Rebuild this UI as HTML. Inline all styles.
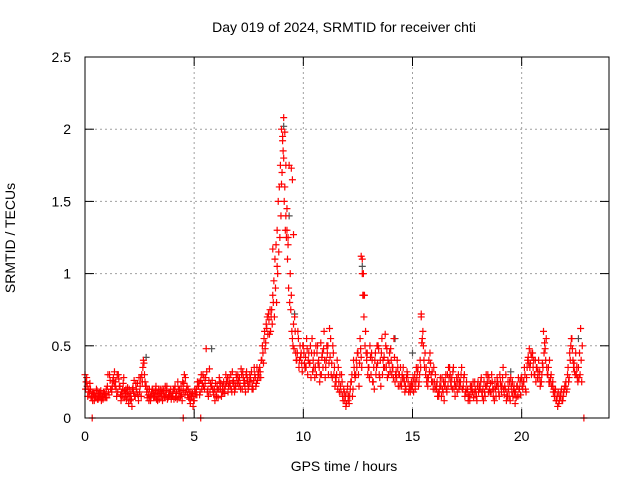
<!DOCTYPE html>
<html><head><meta charset="utf-8"><style>
html,body{margin:0;padding:0;background:#fff}
svg{display:block;font-family:"Liberation Sans",sans-serif}
</style></head><body>
<svg id="chart" width="640" height="480" viewBox="0 0 640 480">
<text x="344" y="32" font-size="14" text-anchor="middle">Day 019 of 2024, SRMTID for receiver chti</text>
<text x="344" y="471" font-size="14" text-anchor="middle">GPS time / hours</text>
<text transform="translate(15,238) rotate(-90)" font-size="14" text-anchor="middle">SRMTID / TECUs</text>
<g id="grid"></g>
<g id="ticks"></g>
<g id="gray"></g>
<g id="red"></g>
<rect x="85" y="57" width="524" height="361" fill="none" stroke="#000" stroke-width="1"/>
</svg>
<script>
const xTicks=[0,5,10,15,20];
const yTicks=[0,0.5,1,1.5,2,2.5];
const yTickLabels=["0","0.5","1","1.5","2","2.5"];
const seriesA=[0.30,0.22,0.18,0.15,0.17,0.14,0.13,0.16,0.15,0.17,
0.14,0.16,0.20,0.28,0.25,0.18,0.22,0.15,0.19,0.13,
0.10,0.17,0.21,0.15,0.24,0.18,0.30,0.38,0.22,0.16,
0.12,0.20,0.15,0.18,0.13,0.17,0.19,0.16,0.14,0.18,
0.15,0.20,0.17,0.14,0.22,0.19,0.28,0.16,0.13,0.15,
0.12,0.20,0.22,0.26,0.30,0.24,0.18,0.34,0.22,0.16,
0.18,0.14,0.20,0.22,0.17,0.25,0.28,0.20,0.26,0.22,
0.30,0.24,0.20,0.26,0.32,0.22,0.25,0.20,0.28,0.26,
0.35,0.40,0.55,0.65,0.72,0.60,0.85,1.10,1.30,1.60,
2.00,1.80,1.40,1.20,1.00,0.55,0.70,0.40,0.35,0.45,
0.50,0.42,0.30,0.38,0.55,0.45,0.30,0.40,0.52,0.35,
0.28,0.45,0.62,0.38,0.30,0.25,0.35,0.22,0.15,0.12,
0.18,0.10,0.25,0.40,0.30,0.45,0.55,1.10,0.85,0.40,
0.35,0.30,0.25,0.45,0.38,0.28,0.55,0.42,0.35,0.30,
0.48,0.35,0.25,0.40,0.30,0.22,0.28,0.20,0.25,0.18,
0.22,0.30,0.28,0.25,0.70,0.50,0.30,0.22,0.45,0.32,
0.25,0.20,0.15,0.22,0.18,0.25,0.30,0.35,0.28,0.20,
0.22,0.30,0.25,0.20,0.15,0.18,0.16,0.22,0.14,0.18,
0.25,0.20,0.15,0.18,0.22,0.28,0.18,0.15,0.20,0.25,
0.30,0.22,0.16,0.12,0.20,0.28,0.15,0.10,0.22,0.20,
0.28,0.25,0.18,0.42,0.38,0.45,0.30,0.35,0.28,0.25,
0.60,0.40,0.30,0.25,0.22,0.15,0.12,0.10,0.18,0.15,
0.22,0.30,0.45,0.55,0.38,0.30,0.35,0.62];
const seriesB=[0.25,0.18,0.20,0.12,0.16,0.19,0.15,0.12,0.18,0.14,
0.30,0.26,0.22,0.32,0.15,0.27,0.12,0.24,0.17,0.21,
0.15,0.08,0.26,0.20,0.12,0.28,0.35,0.25,0.14,0.20,
0.18,0.14,0.22,0.16,0.20,0.12,0.15,0.22,0.18,0.13,
0.20,0.14,0.25,0.18,0.12,0.30,0.20,0.14,0.18,0.08,
0.18,0.25,0.16,0.20,0.28,0.48,0.15,0.24,0.20,0.12,
0.22,0.28,0.15,0.25,0.30,0.18,0.22,0.32,0.18,0.28,
0.22,0.34,0.28,0.18,0.25,0.30,0.20,0.35,0.24,0.32,
0.28,0.45,0.48,0.70,0.58,0.75,0.95,1.20,1.50,1.75,
1.95,1.60,1.30,1.75,0.85,0.65,0.45,0.60,0.50,0.32,
0.38,0.55,0.45,0.28,0.40,0.35,0.50,0.25,0.42,0.60,
0.40,0.30,0.55,0.50,0.22,0.40,0.18,0.30,0.20,0.08,
0.12,0.20,0.15,0.30,0.35,0.22,0.42,1.00,0.60,0.30,
0.50,0.40,0.20,0.35,0.48,0.22,0.40,0.58,0.28,0.45,
0.30,0.55,0.32,0.22,0.35,0.28,0.18,0.32,0.20,0.25,
0.18,0.25,0.35,0.40,0.55,0.35,0.25,0.40,0.30,0.20,
0.30,0.15,0.22,0.28,0.12,0.20,0.35,0.25,0.32,0.15,
0.18,0.25,0.35,0.28,0.20,0.12,0.22,0.18,0.25,0.12,
0.20,0.28,0.12,0.22,0.30,0.18,0.25,0.12,0.22,0.18,
0.22,0.35,0.20,0.15,0.25,0.18,0.22,0.14,0.28,0.16,
0.20,0.30,0.35,0.48,0.30,0.40,0.25,0.32,0.22,0.38,
0.52,0.35,0.25,0.30,0.18,0.20,0.08,0.15,0.12,0.20,
0.18,0.25,0.50,0.40,0.30,0.28,0.45,0.25];
const seriesC=[0.20,0.15,0.24,0.18,0.12,0.20,0.17,0.19,0.13,0.16,
0.22,0.30,0.18,0.25,0.20,0.30,0.16,0.20,0.14,0.18,
0.20,0.13,0.18,0.24,0.16,0.22,0.25,0.30,0.18,0.12,
0.15,0.17,0.19,0.12,0.17,0.20,0.14,0.19,0.15,0.20,
0.17,0.22,0.13,0.20,0.16,0.24,0.18,0.20,0.10,0.17,
0.20,0.16,0.25,0.30,0.22,0.28,0.20,0.18,0.26,0.20,
0.15,0.20,0.24,0.18,0.22,0.28,0.24,0.18,0.22,0.30,
0.26,0.20,0.32,0.22,0.28,0.25,0.32,0.26,0.22,0.30,
0.32,0.50,0.60,0.62,0.68,0.70,0.80,0.90,1.00,1.25,
1.70,1.50,1.25,0.90,0.75,0.50,0.60,0.45,0.40,0.38,
0.45,0.35,0.40,0.50,0.32,0.28,0.45,0.35,0.30,0.48,
0.35,0.50,0.42,0.28,0.35,0.30,0.25,0.18,0.12,0.15,
0.22,0.15,0.30,0.35,0.40,0.30,0.48,0.85,0.50,0.45,
0.28,0.45,0.35,0.30,0.50,0.40,0.30,0.35,0.48,0.38,
0.40,0.28,0.30,0.35,0.22,0.30,0.25,0.28,0.18,0.22,
0.28,0.20,0.32,0.30,0.52,0.40,0.35,0.28,0.38,0.25,
0.20,0.25,0.18,0.15,0.25,0.30,0.22,0.30,0.20,0.25,
0.28,0.20,0.30,0.22,0.18,0.20,0.12,0.20,0.18,0.15,
0.18,0.25,0.20,0.15,0.25,0.20,0.30,0.20,0.15,0.22,
0.25,0.28,0.22,0.18,0.15,0.22,0.20,0.18,0.15,0.25,
0.22,0.35,0.28,0.38,0.45,0.35,0.40,0.28,0.32,0.30,
0.45,0.55,0.35,0.28,0.25,0.18,0.15,0.12,0.20,0.18,
0.25,0.35,0.40,0.48,0.32,0.35,0.28,0.40];
const seriesD=[0.28,0.20,0.14,0.17,0.15,0.13,0.18,0.14,0.16,0.20,
0.18,0.20,0.26,0.22,0.30,0.22,0.18,0.28,0.20,0.16,
0.12,0.20,0.15,0.18,0.28,0.15,0.40,0.22,0.20,0.15,
0.20,0.16,0.13,0.20,0.15,0.18,0.22,0.13,0.16,0.15,
0.13,0.18,0.20,0.15,0.25,0.16,0.22,0.18,0.15,0.12,
0.16,0.22,0.18,0.24,0.20,0.32,0.26,0.22,0.18,0.24,
0.20,0.25,0.18,0.20,0.25,0.22,0.30,0.25,0.20,0.24,
0.28,0.30,0.24,0.30,0.20,0.28,0.22,0.30,0.35,0.28,
0.40,0.38,0.52,0.58,0.75,0.65,0.70,0.80,1.15,1.40,
1.85,1.30,1.10,0.80,0.60,0.48,0.40,0.55,0.42,0.50,
0.35,0.48,0.38,0.45,0.35,0.50,0.38,0.30,0.45,0.40,
0.50,0.38,0.30,0.45,0.28,0.20,0.30,0.25,0.18,0.10,
0.15,0.25,0.20,0.28,0.45,0.38,0.35,0.70,0.45,0.35,
0.42,0.25,0.40,0.50,0.30,0.45,0.35,0.50,0.40,0.32,
0.35,0.42,0.28,0.30,0.25,0.35,0.22,0.30,0.22,0.20,
0.25,0.35,0.22,0.35,0.60,0.45,0.28,0.32,0.25,0.35,
0.22,0.18,0.28,0.20,0.22,0.18,0.28,0.22,0.35,0.22,
0.25,0.22,0.20,0.30,0.25,0.15,0.18,0.25,0.20,0.22,
0.22,0.18,0.25,0.30,0.18,0.24,0.20,0.25,0.28,0.15,
0.18,0.20,0.30,0.25,0.12,0.25,0.18,0.22,0.20,0.28,
0.25,0.20,0.40,0.35,0.42,0.30,0.35,0.40,0.25,0.35,
0.48,0.30,0.40,0.22,0.20,0.12,0.18,0.15,0.12,0.22,
0.20,0.28,0.55,0.35,0.45,0.25,0.30,0.50];
const extraTimes=[8.6,8.8,9.0,9.05,9.1,9.15,9.2,9.25,9.3,9.45,9.5,9.55,12.65,12.7,12.75,15.4,0.33,4.5,5.3,22.85];
const extraValues=[1.17,1.05,1.62,1.92,2.08,1.98,1.75,1.45,1.25,1.73,1.65,1.27,1.12,1.00,0.85,0.72,0,0,0,0];
const grayTimes=[2.8,5.8,9.1,9.35,9.6,12.7,14.2,15.0,19.5,22.6];
const grayValues=[0.42,0.48,2.02,1.40,0.72,1.05,0.55,0.45,0.32,0.55];
const NS='http://www.w3.org/2000/svg';
const X=t=>85+t*(524/24), Y=v=>418-v*(361/2.5);
function mk(tag,attrs,parent){const e=document.createElementNS(NS,tag);for(const k in attrs)e.setAttribute(k,attrs[k]);parent.appendChild(e);return e;}
const grid=document.getElementById('grid'),ticks=document.getElementById('ticks');
xTicks.forEach(t=>{const x=X(t);
 if(t>0){const g=mk('line',{x1:x,y1:57,x2:x,y2:418,stroke:'#a0a0a0','stroke-dasharray':'2,3'},grid);
 
 }
 mk('line',{x1:x,y1:418,x2:x,y2:409,stroke:'#000'},ticks);mk('line',{x1:x,y1:57,x2:x,y2:66,stroke:'#000'},ticks);
 const l=mk('text',{x:x,y:441,'font-size':14,'text-anchor':'middle'},ticks);l.textContent=String(t);
 
 });
yTicks.forEach((v,i)=>{const y=Y(v);
 if(v>0&&v<2.5){const g=mk('line',{x1:85,y1:y,x2:609,y2:y,stroke:'#a0a0a0','stroke-dasharray':'2,3'},grid);
 
 }
 mk('line',{x1:85,y1:y,x2:94,y2:y,stroke:'#000'},ticks);mk('line',{x1:600,y1:y,x2:609,y2:y,stroke:'#000'},ticks);
 const l=mk('text',{x:71,y:y+5,'font-size':14,'text-anchor':'end'},ticks);l.textContent=yTickLabels[i];
 
 });
function plus(t,v,col,parent){const x=X(t),y=Y(v);
 const p=mk('path',{d:`M${x-3.5},${y}H${x+3.5}M${x},${y-3.5}V${y+3.5}`,stroke:col,'stroke-width':1.2,fill:'none'},parent);
 
 }
const gG=document.getElementById('gray'),rG=document.getElementById('red');
grayTimes.forEach((t,i)=>plus(t,grayValues[i],'#505050',gG));
seriesA.forEach((v,i)=>plus(i*0.1,v,'#ff0000',rG));
seriesB.forEach((v,i)=>plus(i*0.1+0.05,v,'#ff0000',rG));
seriesC.forEach((v,i)=>plus(i*0.1+0.025,v,'#ff0000',rG));
seriesD.forEach((v,i)=>plus(i*0.1+0.075,v,'#ff0000',rG));
extraTimes.forEach((t,i)=>plus(t,extraValues[i],'#ff0000',rG));
</script>
</body></html>
